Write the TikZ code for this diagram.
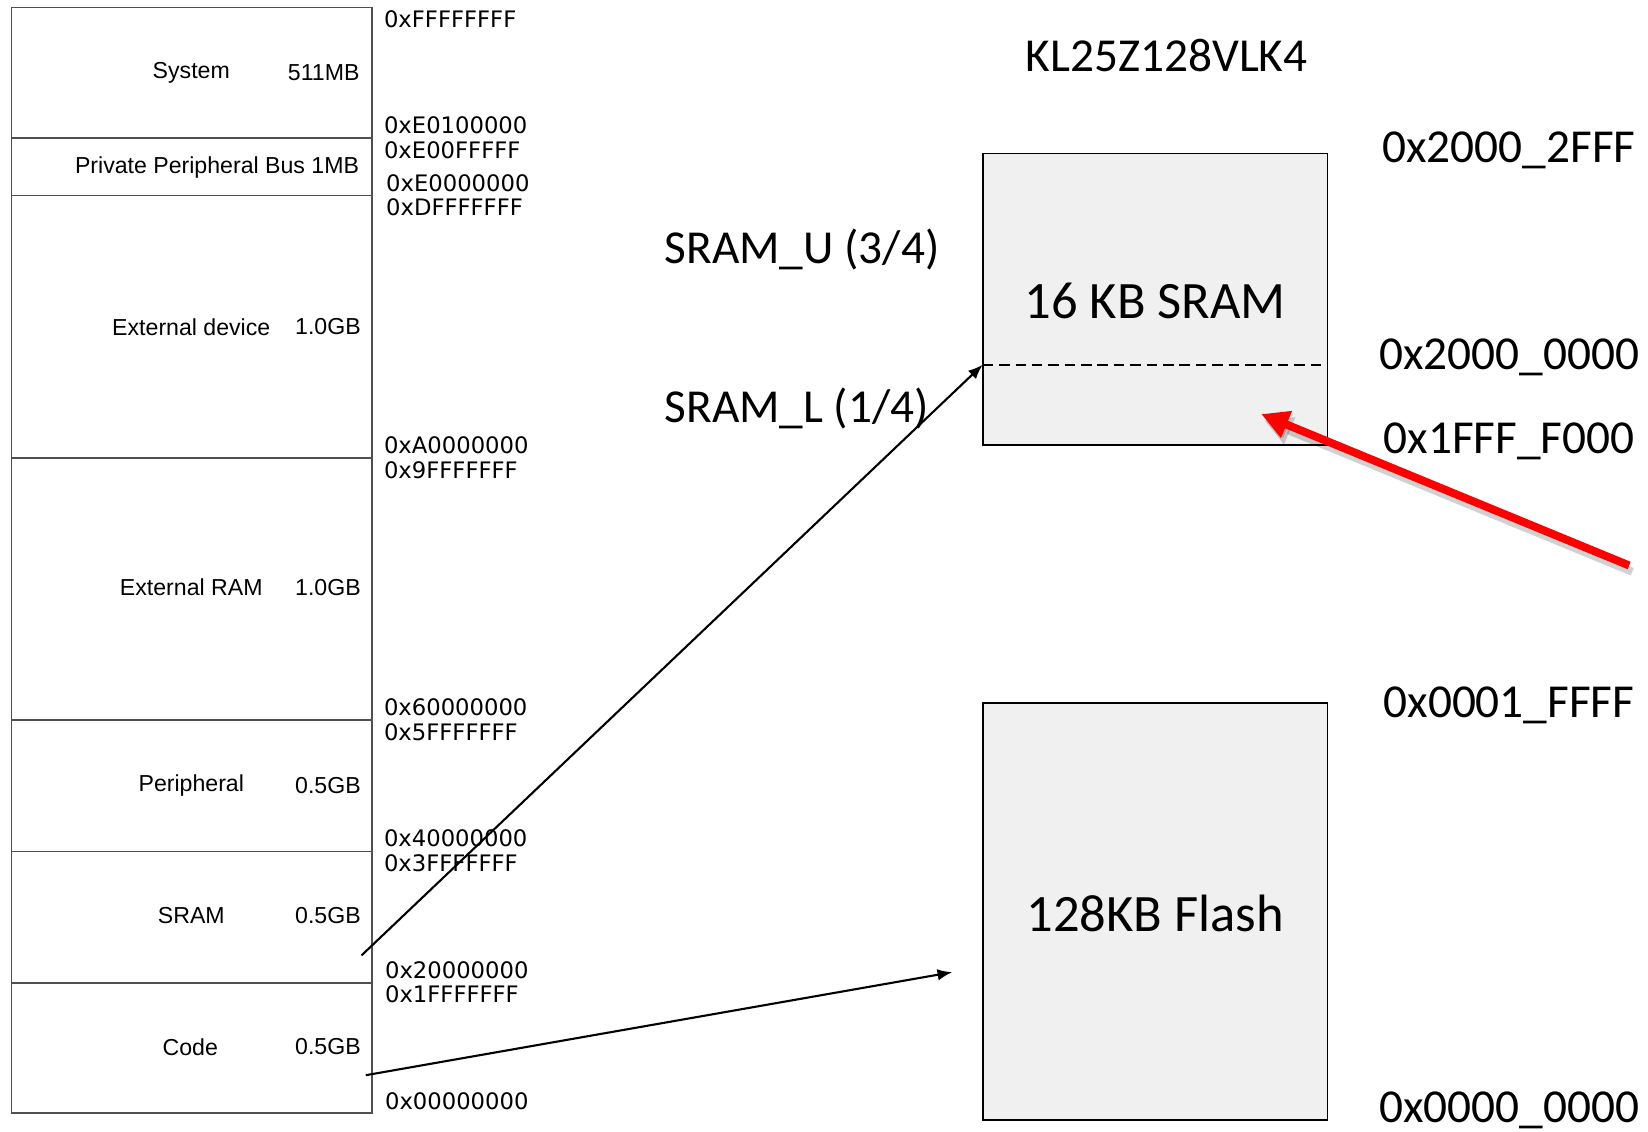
\documentclass[tikz,border=0pt]{standalone}
\usepackage{fontspec}
\setmainfont{Liberation Sans}
\newfontfamily\addrfont{DejaVu Sans}
\newfontfamily\calfont{Carlito}
\usetikzlibrary{arrows.meta}
\definecolor{boxfill}{HTML}{F0F0F0}
\definecolor{mapline}{HTML}{505050}
\begin{document}
\begin{tikzpicture}[x=0.5pt,y=-0.5pt,
  region/.style={draw=mapline, line width=0.8pt, rectangle, minimum width=171.5pt, inner sep=0pt, outer sep=0pt},
  rname/.style={font=\fontsize{11}{13}\selectfont, inner sep=0pt},
  addr/.style={font=\addrfont\fontsize{10.8}{12}\selectfont, anchor=west, inner sep=0pt},
  big/.style={font=\calfont\fontsize{22.5}{26}\selectfont, inner sep=0pt},
  bigger/.style={font=\calfont\fontsize{25}{29}\selectfont, inner sep=0pt},
  chip/.style={draw=black, line width=0.9pt, fill=boxfill, rectangle, minimum width=164pt, inner sep=0pt, outer sep=0pt},
  blackarrow/.style={line width=1pt, -{Latex[length=7pt,width=5.5pt]}},
  redarrow/.style={line width=3.8pt, red, -{Triangle[length=13pt,width=13pt]}},
  shadowarrow/.style={line width=3.8pt, black, opacity=0.18, -{Triangle[length=13pt,width=13pt]}}
]
\useasboundingbox (0,0) rectangle (1568,1077);

% left memory map
\node[region, minimum height=62pt]   (sys)  at (182.5,69) {};
\node[region, minimum height=27.5pt] (ppb)  at (182.5,158.5) {};
\node[region, minimum height=125pt]  (extd) at (182.5,311) {};
\node[region, minimum height=124.5pt](extr) at (182.5,560.5) {};
\node[region, minimum height=62.5pt] (per)  at (182.5,747.5) {};
\node[region, minimum height=62.5pt] (sram) at (182.5,872.5) {};
\node[region, minimum height=62pt]   (code) at (182.5,997) {};

\node[rname] (n1) at (182,69) {System};
\node[rname] (s1) at (308,69) {511MB};
\node[rname, anchor=east] (n2) at (342,159) {Private Peripheral Bus 1MB};
\node[rname] (n3) at (182,311) {External device};
\node[rname] (s3) at (312,311) {1.0GB};
\node[rname] (n4) at (182,559) {External RAM};
\node[rname] (s4) at (312,559) {1.0GB};
\node[rname] (n5) at (182,747) {Peripheral};
\node[rname] (s5) at (312,747) {0.5GB};
\node[rname] (n6) at (182,871) {SRAM};
\node[rname] (s6) at (312,871) {0.5GB};
\node[rname] (n7) at (181,996) {Code};
\node[rname] (s7) at (312,996) {0.5GB};

\node[addr] (a1)  at (365,18)   {0xFFFFFFFF};
\node[addr] (a2)  at (365,119)  {0xE0100000};
\node[addr] (a3)  at (365,143)  {0xE00FFFFF};
\node[addr] (a4)  at (367,174)  {0xE0000000};
\node[addr] (a5)  at (367,197)  {0xDFFFFFFF};
\node[addr] (a6)  at (365,424)  {0xA0000000};
\node[addr] (a7)  at (365,447)  {0x9FFFFFFF};
\node[addr] (a8)  at (365,673)  {0x60000000};
\node[addr] (a9)  at (365,697)  {0x5FFFFFFF};
\node[addr] (a10) at (365,798)  {0x40000000};
\node[addr] (a11) at (365,821)  {0x3FFFFFFF};
\node[addr] (a12) at (366,923)  {0x20000000};
\node[addr] (a13) at (366,946)  {0x1FFFFFFF};
\node[addr] (a14) at (366,1048) {0x00000000};

% right side
\node[big] (title) at (1110,53) {KL25Z128VLK4};
\node[chip, minimum height=138.5pt] (sbox) at (1099,284.5) {};
\node[chip, minimum height=198.5pt] (fbox) at (1099,867.5) {};
\node[bigger] (slab) at (1099,286) {16 KB SRAM};
\node[bigger] (flab) at (1099,869) {128KB Flash};
\coordinate (dl) at (935,347);
\coordinate (dr) at (1263,347);
\draw[line width=0.75pt, dash pattern=on 5pt off 2.8pt] (dl) -- (dr);

\node[big, anchor=west] (su) at (632,237) {SRAM\_U (3/4)};
\node[big, anchor=west] (sl) at (632,389) {SRAM\_L (1/4)};

\node[big, anchor=west] (r1) at (1315,143) {0x2000\_2FFF};
\node[big, anchor=west] (r2) at (1312,340) {0x2000\_0000};
\node[big, anchor=west] (r3) at (1316,420) {0x1FFF\_F000};
\node[big, anchor=west] (r4) at (1316,671) {0x0001\_FFFF};
\node[big, anchor=west] (r5) at (1312,1056) {0x0000\_0000};

% arrows
\coordinate (srcS) at (344,909);
\coordinate (srcC) at (348,1023);
\coordinate (fl) at (906,925);
\draw[blackarrow] (srcS) -- (dl);
\draw[blackarrow] (srcC) -- (fl);

\coordinate (redS) at (1550,538);
\coordinate (redE) at (1200,394);
\coordinate (redSs) at (1553,544);
\coordinate (redEs) at (1203,400);
\draw[shadowarrow] (redSs) -- (redEs);
\draw[redarrow] (redS) -- (redE);
\end{tikzpicture}
\end{document}
